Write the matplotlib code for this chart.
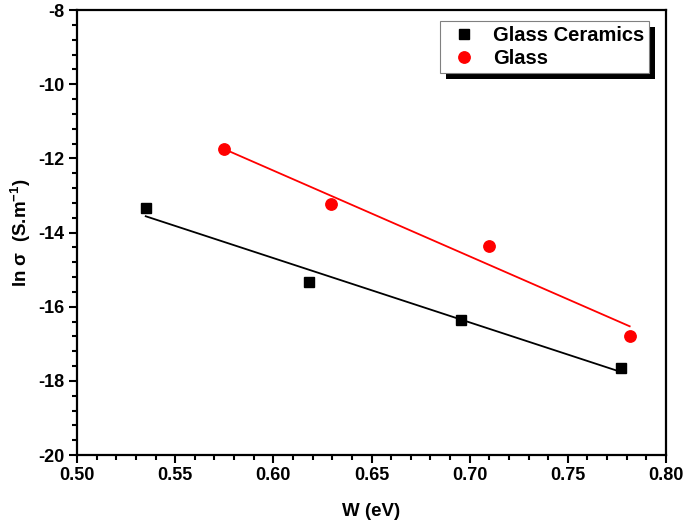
import numpy as np
import matplotlib
matplotlib.use("Agg")
import matplotlib.pyplot as plt
from matplotlib.ticker import MultipleLocator, AutoMinorLocator
from matplotlib.patches import Rectangle

# Data
gc_w = [0.535, 0.6183, 0.6957, 0.7771]
gc_lns = [-13.35, -15.33, -16.35, -17.65]
gl_w = [0.575, 0.6292, 0.7100, 0.7815]
gl_lns = [-11.76, -13.23, -14.37, -16.80]
labels = ["Glass Ceramics", "Glass"]

plt.rcParams['font.family'] = ['Liberation Sans', 'DejaVu Sans']
plt.rcParams['font.weight'] = 'bold'
plt.rcParams['axes.unicode_minus'] = False
plt.rcParams['mathtext.fontset'] = 'custom'
plt.rcParams['mathtext.rm'] = 'Liberation Sans'
plt.rcParams['mathtext.bf'] = 'Liberation Sans:bold'

W, H = 685, 521
fig = plt.figure(figsize=(W/100, H/100), dpi=100)
ax = fig.add_axes([77/W, 1-455/H, (666-77)/W, (455-10)/H])

# fits
for xs, ys, c in [(gc_w, gc_lns, 'black'), (gl_w, gl_lns, 'red')]:
    p = np.polyfit(xs, ys, 1)
    xx = np.array([min(xs), max(xs)])
    ax.plot(xx, np.polyval(p, xx), color=c, lw=1.3, zorder=2)

h1, = ax.plot(gc_w, gc_lns, ls='none', marker='s', ms=7.6, color='black', zorder=3)
h2, = ax.plot(gl_w, gl_lns, ls='none', marker='o', ms=8.2, color='red', zorder=3)

ax.set_xlim(0.50, 0.80)
ax.set_ylim(-20, -8)
ax.xaxis.set_major_locator(MultipleLocator(0.05))
ax.xaxis.set_minor_locator(AutoMinorLocator(5))
ax.yaxis.set_major_locator(MultipleLocator(2))
ax.yaxis.set_minor_locator(AutoMinorLocator(5))
ax.xaxis.set_major_formatter(matplotlib.ticker.FormatStrFormatter('%.2f'))
ax.tick_params(which='both', direction='out', top=False, right=False, width=1.5,
               labelsize=13, pad=3)
ax.tick_params(which='major', length=6)
ax.tick_params(which='minor', length=3.5)
for s in ax.spines.values():
    s.set_linewidth(1.6)

ax.set_xlabel("W (eV)", fontsize=13.5, fontweight='bold', labelpad=13)
ax.set_ylabel(r"ln $\mathrm{\sigma}$  (S.m$^{\mathbf{-1}}$)", fontsize=13.5, fontweight='bold', labelpad=4)

leg = fig.legend([h1, h2], labels, loc='upper left',
                 bbox_to_anchor=(439.7/W, 1-20.7/H), borderaxespad=0,
                 fontsize=14.5, frameon=True, fancybox=False, shadow=False,
                 handlelength=1.9, handletextpad=0.5, borderpad=0.25,
                 labelspacing=0.2, framealpha=1)
leg.get_frame().set_edgecolor('#808080')
leg.get_frame().set_linewidth(0.8)
leg.set_zorder(10)

fig.canvas.draw()
bb = leg.get_window_extent()
shadow = Rectangle((bb.x0 + 6, bb.y0 - 6), bb.width, bb.height, transform=None,
                   facecolor='black', edgecolor='none', zorder=9)
fig.add_artist(shadow)

fig.savefig("out.png", dpi=100)
